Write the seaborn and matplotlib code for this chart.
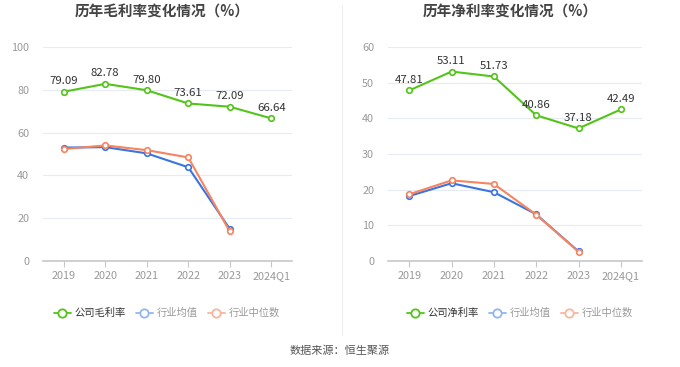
import matplotlib
matplotlib.use('Agg')
import matplotlib.pyplot as plt
import seaborn as sns
import pandas as pd
from matplotlib.lines import Line2D

years = ['2019', '2020', '2021', '2022', '2023', '2024Q1']

gross_company = [79.09, 82.78, 79.80, 73.61, 72.09, 66.64]
gross_avg = [53.0, 53.2, 50.3, 43.8, 15.0, None]
gross_median = [52.3, 54.0, 51.8, 48.4, 13.8, None]

net_company = [47.81, 53.11, 51.73, 40.86, 37.18, 42.49]
net_avg = [18.2, 21.8, 19.3, 13.1, 2.7, None]
net_median = [18.7, 22.6, 21.6, 13.0, 2.6, None]

GREEN = '#52c41a'
BLUE = '#3b74e0'
ORANGE = '#f5845f'

sns.set_style('white')
plt.rcParams['font.family'] = ['Noto Sans CJK SC', 'DejaVu Sans']


def draw_panel(ax, company, avg, median, ymax, ystep):
    df = pd.DataFrame({'x': range(len(years)), 'company': company,
                       'avg': avg, 'median': median})
    for col, color in [('avg', BLUE), ('median', ORANGE), ('company', GREEN)]:
        sub = df.dropna(subset=[col])
        sns.lineplot(data=sub, x='x', y=col, ax=ax, color=color, lw=1.5,
                     marker='o', markersize=4, markerfacecolor='white',
                     markeredgecolor=color, markeredgewidth=1.2, zorder=3)
    for i, v in enumerate(company):
        ax.annotate(f'{v:.2f}', (i, v), xytext=(0, 4), textcoords='offset points',
                    ha='center', va='bottom', fontsize=8.2, color='#333333')
    ax.set_xlim(-0.5, 5.5)
    ax.set_ylim(0, ymax)
    ax.set_yticks(range(0, ymax + 1, ystep))
    ax.set_xticks(range(len(years)))
    ax.set_xticklabels(years)
    ax.set_xlabel('')
    ax.set_ylabel('')
    ax.grid(axis='y', color='#e6eaf2', lw=0.8)
    for s in ['top', 'right', 'left']:
        ax.spines[s].set_visible(False)
    ax.spines['bottom'].set_color('#c8c8c8')
    ax.spines['bottom'].set_linewidth(1.2)
    ax.tick_params(axis='x', colors='#999999', labelsize=7.8, length=4,
                   width=0.8, direction='out', bottom=True)
    ax.tick_params(axis='x', color='#c8c8c8')
    ax.tick_params(axis='y', colors='#999999', labelsize=7.8, length=0, pad=10)


fig = plt.figure(figsize=(6.8, 3.67), dpi=100)
ax1 = fig.add_axes([43 / 680, 106 / 367, 249 / 680, 214 / 367])
ax2 = fig.add_axes([388 / 680, 106 / 367, 254 / 680, 214 / 367])

draw_panel(ax1, gross_company, gross_avg, gross_median, 100, 20)
draw_panel(ax2, net_company, net_avg, net_median, 60, 10)

fig.text(162 / 680, 1 - 12 / 367, '历年毛利率变化情况（%）', ha='center', va='center',
         fontsize=10.5, fontweight='bold', color='#444444')
fig.text(510 / 680, 1 - 12 / 367, '历年净利率变化情况（%）', ha='center', va='center',
         fontsize=10.5, fontweight='bold', color='#444444')

# divider between the two panels
fig.add_artist(Line2D([342 / 680, 342 / 680], [1 - 5 / 367, 1 - 335 / 367],
                      color='#eeeeee', lw=0.8))


def make_legend(comp_label, cx):
    handles = [
        Line2D([], [], color=GREEN, marker='o', markersize=6, markerfacecolor='white',
               markeredgewidth=1.3, lw=1.3),
        Line2D([], [], color='#94b5f0', marker='o', markersize=6, markerfacecolor='white',
               markeredgewidth=1.3, lw=1.3),
        Line2D([], [], color='#f7b6a0', marker='o', markersize=6, markerfacecolor='white',
               markeredgewidth=1.3, lw=1.3),
    ]
    fig.legend(handles, [comp_label, '行业均值', '行业中位数'], loc='center',
               bbox_to_anchor=(cx, 1 - 313 / 367), ncol=3, frameon=False,
               fontsize=7.4, handlelength=1.6, handletextpad=0.4,
               columnspacing=1.0, labelcolor=['#333333', '#999999', '#999999'])


make_legend('公司毛利率', 167 / 680)
make_legend('公司净利率', 520 / 680)

fig.text(0.5, 1 - 351 / 367, '数据来源：恒生聚源', ha='center', va='center',
         fontsize=8, color='#555555')

fig.savefig('out.png', dpi=100)
